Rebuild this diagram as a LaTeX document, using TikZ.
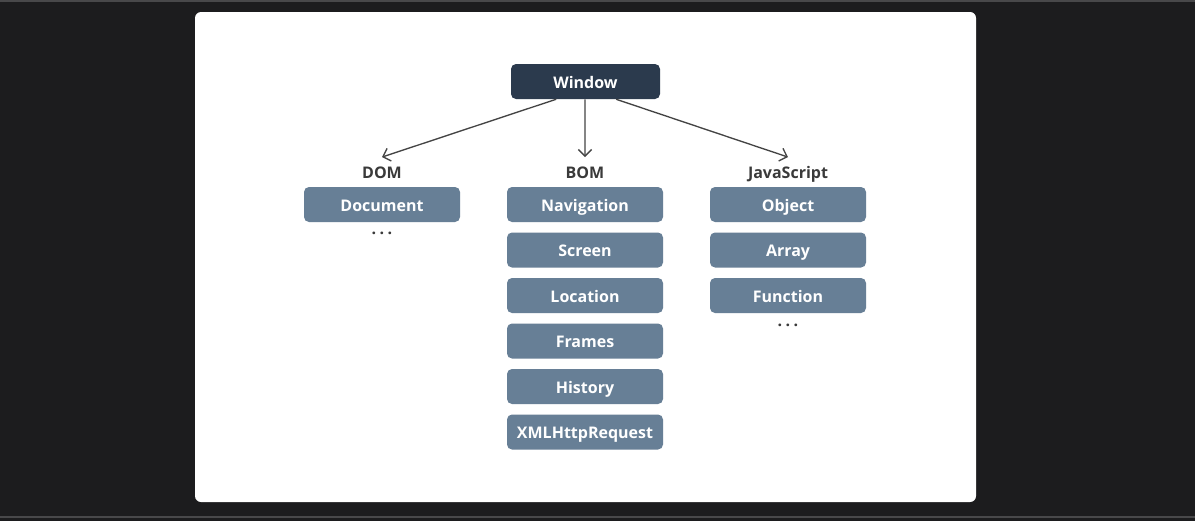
\documentclass[tikz,border=0pt]{standalone}
\usepackage{fontspec}
\setmainfont{Open Sans}
\usepackage{tikz}
\usetikzlibrary{calc,arrows.meta}
\usepackage{xcolor}
\definecolor{pagebg}{HTML}{1C1C1E}
\definecolor{edgeline}{HTML}{48484A}
\definecolor{winfill}{HTML}{2B3A4D}
\definecolor{boxfill}{HTML}{677F96}
\definecolor{headtext}{HTML}{3A3A3A}
\definecolor{arrowgray}{HTML}{444444}

\begin{document}
\begin{tikzpicture}[x=0.75pt,y=-0.75pt,>={Straight Barb[length=5pt,width=10pt]},
  font=\fontsize{12pt}{14pt}\selectfont\bfseries,
  item/.style={fill=boxfill,text=white,rounded corners=3.75pt,minimum width=117pt,minimum height=26.25pt,inner sep=0pt,text height=10pt,text depth=0pt},
  head/.style={text=headtext,inner xsep=2pt,inner ysep=7pt,text height=9pt,text depth=2pt},
  more/.style={text=headtext,inner sep=0pt}]
  \useasboundingbox (0,0) rectangle (1195,521);
  \fill[pagebg] (0,0) rectangle (1195,521);
  \fill[edgeline] (0,0) rectangle (1195,1.5);
  \fill[edgeline] (0,516) rectangle (1195,517.5);
  \fill[white,rounded corners=4.5pt] (195,12) rectangle (976,502);

  \node[item,fill=winfill,minimum width=111.75pt] (win) at (585.5,81.5) {Window};

  \node[head] (dom) at (382,174) {DOM};
  \node[head] (bom) at (585,174) {BOM};
  \node[head] (js) at (788,174) {JavaScript};

  \draw[->,arrowgray,line width=1pt] ([xshift=-22pt]win.south) -- (dom.north);
  \draw[->,arrowgray,line width=1pt] ([xshift=-0.4pt]win.south) -- (bom.north);
  \draw[->,arrowgray,line width=1pt] ([xshift=23pt]win.south) -- (js.north);

  \node[item] (document) at (382,204.5) {Document};
  \node[more] (domdots) at (382,233.5) {.\hspace{2.6pt}.\hspace{2.6pt}.};

  \node[item] (navigation) at (585,204.5) {Navigation};
  \node[item] (screen) at (585,250) {Screen};
  \node[item] (location) at (585,295.5) {Location};
  \node[item] (frames) at (585,341) {Frames};
  \node[item] (history) at (585,386.5) {History};
  \node[item] (xhr) at (585,432) {XMLHttpRequest};

  \node[item] (object) at (788,204.5) {Object};
  \node[item] (array) at (788,250) {Array};
  \node[item] (function) at (788,295.5) {Function};
  \node[more] (jsdots) at (788,325) {.\hspace{2.6pt}.\hspace{2.6pt}.};
\end{tikzpicture}
\end{document}
